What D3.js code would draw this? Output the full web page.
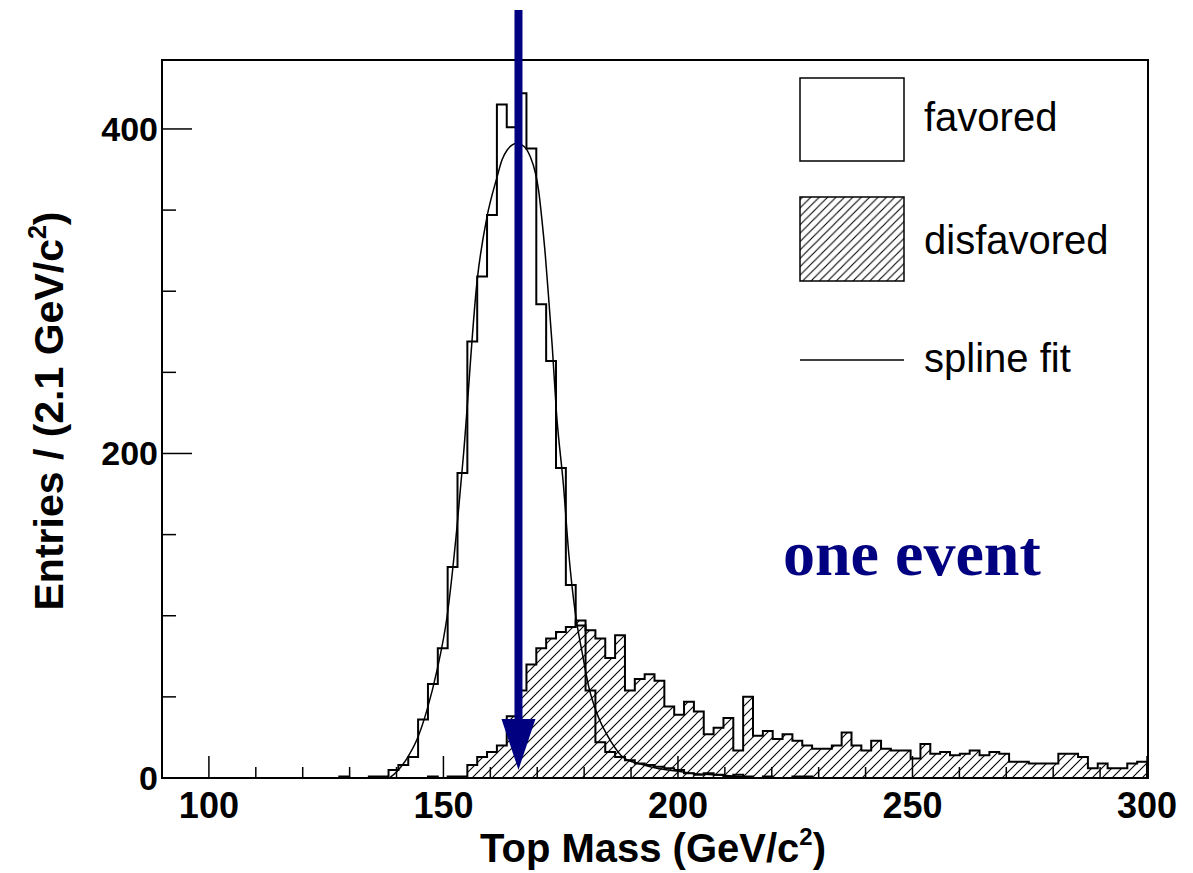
<!DOCTYPE html>
<html>
<head>
<meta charset="utf-8">
<script src="https://cdn.jsdelivr.net/npm/d3@7"></script>
<style>
  html, body { margin: 0; padding: 0; background: #fff; }
  svg { display: block; }
</style>
</head>
<body>
<svg id="chart" width="1193" height="873"></svg>
<script>
// ---------------- data ----------------
const binStart = 90;      // GeV/c^2
const binWidth = 2.1;     // GeV/c^2
const favored = [
  0,0,0,0,0,0,0,0,0,0,
  0,0,0,0,0,0,0,0,1,0,
  0,1,1,5,8,13,36,58,80,130,
  188,269,309,347,415,401,422,388,292,257,
  191,119,94,54,22,16,13,11,9,8,
  7,6,5,3,2,3,2,1,2,1,
  0,1,0,0,1,1,0,0,0,0,
  0,0,0,0,0,0,0,0,0,0,
  0,0,0,0,0,0,0,0,0,0,
  0,0,0,0,0,0,0,0,0,0
];
const disfavored = [
  0,0,0,0,0,0,0,0,0,0,
  0,0,0,0,0,0,0,0,0,0,
  0,0,0,0,0,0,0,1,0,1,
  1,8,13,16,20,38,54,70,80,86,
  90,93,97,91,86,74,88,54,61,64,
  60,44,39,47,41,27,31,37,17,50,
  26,29,24,27,23,20,18,18,20,28,
  20,17,23,18,17,17,12,21,15,16,
  14,15,17,14,16,15,10,10,9,9,
  9,15,15,13,6,9,6,6,9,10
];
const splineMass = [138.7,140.1,142.2,144.4,146.5,148.6,150.8,152.9,154.3,157.2,159.3,161.4,162.5,163.6,165.6,166.8,168.5,169.6,170.3,171.0,171.7,172.4,173.2,174.1,175.6,176.7,178.1,179.6,181.0,182.7,185.6,188.4,192.0,195.5,199.1,202.6,209.0,214.6];
const splineFit  = [0.5,4,12,24,42,66,100,155,200,307,346,370,381,387,391,390,383,373,362,344,323,297,266,225,180,139,102,77,56,40,23,12.5,8.6,6,4.5,3,1.8,0.5];
const xMajorTicks = [100,150,200,250,300];
const yMajorTicks = [0,200,400];
const eventMass = 166;
const legendLabels = ["favored","disfavored","spline fit"];
const xTitle = "Top Mass (GeV/c";
const yTitle = "Entries / (2.1 GeV/c";
const annotation = "one event";

// ---------------- layout ----------------
const svg = d3.select("#chart");
const L = 162, R = 1147, T = 60, B = 778;
const x = d3.scaleLinear().domain([90, 300]).range([L, R]);
const y = d3.scaleLinear().domain([0, 442.5]).range([B, T]);
const navy = "#000080";

const defs = svg.append("defs");
function hatch(id, s) {
  defs.append("pattern").attr("id", id).attr("patternUnits", "userSpaceOnUse")
    .attr("width", s).attr("height", s)
    .append("path")
    .attr("d", `M${-s/4},${s/4} L${s/4},${-s/4} M0,${s} L${s},0 M${s*3/4},${s*5/4} L${s*5/4},${s*3/4}`)
    .attr("stroke", "#000").attr("stroke-width", 1.1).attr("fill", "none");
}
hatch("hatchPlot", 10);
hatch("hatchLegend", 8.4);

const clip = defs.append("clipPath").attr("id", "plotClip");
clip.append("rect").attr("x", L).attr("y", T).attr("width", R - L + 1).attr("height", B - T);

// histogram step path
function stepPath(counts) {
  let first = counts.findIndex(v => v > 0);
  let last = counts.length - 1 - [...counts].reverse().findIndex(v => v > 0);
  let d = `M${x(binStart + first * binWidth)},${y(0)}`;
  for (let i = first; i <= last; i++) {
    const x0 = x(binStart + i * binWidth), x1 = x(binStart + (i + 1) * binWidth);
    d += `L${x0},${y(counts[i])}L${x1},${y(counts[i])}`;
  }
  d += `L${x(binStart + (last + 1) * binWidth)},${y(0)}`;
  return d;
}

const plot = svg.append("g").attr("clip-path", "url(#plotClip)");

// disfavored (hatched)
plot.append("path").attr("d", stepPath(disfavored) + "Z")
  .attr("fill", "url(#hatchPlot)").attr("stroke", "none");
plot.append("path").attr("d", stepPath(disfavored))
  .attr("fill", "none").attr("stroke", "#000").attr("stroke-width", 2);

// favored
plot.append("path").attr("d", stepPath(favored))
  .attr("fill", "none").attr("stroke", "#000").attr("stroke-width", 2);

// spline fit
const line = d3.line().x(d => x(d[0])).y(d => y(d[1])).curve(d3.curveMonotoneX);
plot.append("path").attr("d", line(splineMass.map((m, i) => [m, splineFit[i]])))
  .attr("fill", "none").attr("stroke", "#000").attr("stroke-width", 1.5);

// ---------------- axes ----------------
const xAxisG = svg.append("g").attr("transform", `translate(0,${B})`);
const xMinor = d3.range(90, 301, 10).filter(v => !xMajorTicks.includes(v));
xAxisG.selectAll("line.minor").data(xMinor).join("line")
  .attr("x1", d => x(d)).attr("x2", d => x(d)).attr("y1", 0).attr("y2", -11)
  .attr("stroke", "#000").attr("stroke-width", 1.5);
xAxisG.selectAll("line.major").data(xMajorTicks).join("line")
  .attr("x1", d => x(d)).attr("x2", d => x(d)).attr("y1", 0).attr("y2", -22)
  .attr("stroke", "#000").attr("stroke-width", 1.5);
xAxisG.selectAll("text").data(xMajorTicks).join("text")
  .attr("x", d => x(d)).attr("y", 40).attr("text-anchor", "middle")
  .attr("font-family", "Liberation Sans, Arial, sans-serif").attr("font-weight", "bold")
  .attr("font-size", 36).text(d => d);

const yAxisG = svg.append("g").attr("transform", `translate(${L},0)`);
const yMinor = d3.range(0, 442, 50).filter(v => !yMajorTicks.includes(v));
yAxisG.selectAll("line.minor").data(yMinor).join("line")
  .attr("x1", 0).attr("x2", 14).attr("y1", d => y(d)).attr("y2", d => y(d))
  .attr("stroke", "#000").attr("stroke-width", 1.5);
yAxisG.selectAll("line.major").data(yMajorTicks).join("line")
  .attr("x1", 0).attr("x2", 30).attr("y1", d => y(d)).attr("y2", d => y(d))
  .attr("stroke", "#000").attr("stroke-width", 1.5);
yAxisG.selectAll("text").data(yMajorTicks).join("text")
  .attr("x", -4).attr("y", d => y(d) + 12).attr("text-anchor", "end")
  .attr("font-family", "Liberation Sans, Arial, sans-serif").attr("font-weight", "bold")
  .attr("font-size", 34).text(d => d);

// frame
svg.append("rect").attr("x", L).attr("y", T).attr("width", R - L + 1).attr("height", B - T)
  .attr("fill", "none").attr("stroke", "#000").attr("stroke-width", 2);

// axis titles
const xt = svg.append("text").attr("x", 653).attr("y", 862).attr("text-anchor", "middle")
  .attr("font-family", "Liberation Sans, Arial, sans-serif").attr("font-weight", "bold")
  .attr("font-size", 40);
xt.append("tspan").text(xTitle);
xt.append("tspan").attr("font-size", 24).attr("dy", -17).text("2");
xt.append("tspan").attr("dy", 17).text(")");

const yt = svg.append("text").attr("transform", "translate(63,411) rotate(-90)")
  .attr("text-anchor", "middle")
  .attr("font-family", "Liberation Sans, Arial, sans-serif").attr("font-weight", "bold")
  .attr("font-size", 41);
yt.append("tspan").text(yTitle);
yt.append("tspan").attr("font-size", 25).attr("dy", -17).text("2");
yt.append("tspan").attr("dy", 17).text(")");

// ---------------- legend ----------------
const lg = svg.append("g");
lg.append("rect").attr("x", 800).attr("y", 78).attr("width", 104).attr("height", 83)
  .attr("fill", "#fff").attr("stroke", "#000").attr("stroke-width", 1.5);
lg.append("rect").attr("x", 800).attr("y", 197).attr("width", 104).attr("height", 84)
  .attr("fill", "url(#hatchLegend)").attr("stroke", "#000").attr("stroke-width", 1.5);
lg.append("line").attr("x1", 800).attr("x2", 904).attr("y1", 360).attr("y2", 360)
  .attr("stroke", "#000").attr("stroke-width", 1.5);
lg.selectAll("text").data(legendLabels).join("text")
  .attr("x", 924).attr("y", (d, i) => [131, 254, 372][i])
  .attr("font-family", "Liberation Sans, Arial, sans-serif").attr("font-size", 40)
  .text(d => d);

// ---------------- annotation ----------------
svg.append("text").attr("x", 783).attr("y", 575)
  .attr("font-family", "Liberation Serif, Times New Roman, serif").attr("font-weight", "bold")
  .attr("font-size", 64).attr("fill", navy).text(annotation);

const ax = x(eventMass);
const tipY = y(5);
svg.append("rect").attr("x", ax - 4).attr("y", 10).attr("width", 8).attr("height", tipY - 48 - 10)
  .attr("fill", navy);
svg.append("path")
  .attr("d", `M${ax - 17},${tipY - 51}L${ax + 17},${tipY - 51}L${ax},${tipY}Z`)
  .attr("fill", navy);
</script>
</body>
</html>
